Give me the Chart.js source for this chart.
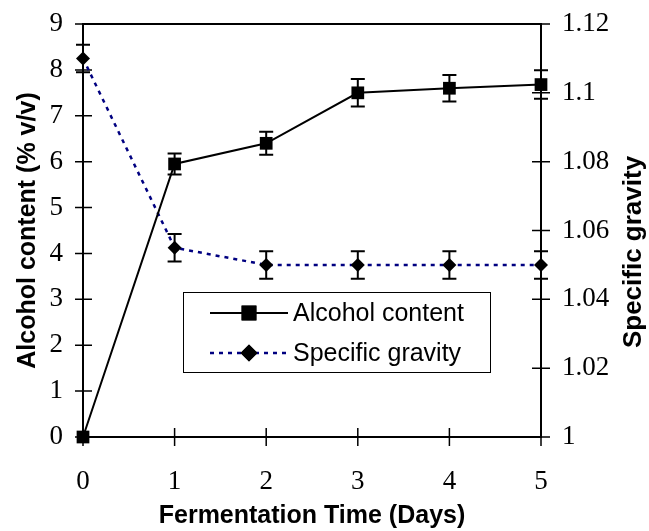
<!DOCTYPE html>
<html>
<head>
<meta charset="utf-8">
<script src="https://cdn.jsdelivr.net/npm/chart.js@4.4.1/dist/chart.umd.min.js"></script>
<style>
  body { margin: 0; background: #fff; }
  #wrap { width: 649px; height: 531px; }
</style>
</head>
<body>
<div id="wrap"><canvas id="chart"></canvas></div>
<script>
// fermentation data
const days = [0, 1, 2, 3, 4, 5]
const alcohol = [0, 5.95, 6.4, 7.5, 7.6, 7.68]
const alcoholErr = [0, 0.23, 0.25, 0.3, 0.29, 0.31]
const gravity = [1.11, 1.055, 1.05, 1.05, 1.05, 1.05]
const gravityErr = [0.004, 0.004, 0.004, 0.004, 0.004, 0.004]
const leftTicks = [0, 1, 2, 3, 4, 5, 6, 7, 8, 9]
const rightTicks = [1, 1.02, 1.04, 1.06, 1.08, 1.1, 1.12]
const rightTitle = 'Specific gravity'

const serif = "'Liberation Serif', 'Times New Roman', serif"
const sans = "'Liberation Sans', Arial, sans-serif"

function points(ys) {
  return days.map((d, i) => ({x: d, y: ys[i]}))
}

/* frame, crossing tick marks, error bars, legend and right title */
const decorPlugin = {
  id: 'decor',
  beforeDatasetsDraw(chart) {
    const ctx = chart.ctx
    const a = chart.chartArea
    const sx = chart.scales.x, sy = chart.scales.y, sy1 = chart.scales.y1
    ctx.save()
    ctx.strokeStyle = '#000'
    ctx.lineWidth = 2
    ctx.strokeRect(a.left, a.top, a.right - a.left, a.bottom - a.top)
    ctx.beginPath()
    leftTicks.forEach(v => {
      const y = sy.getPixelForValue(v)
      ctx.moveTo(a.left - 8, y); ctx.lineTo(a.left + 9, y)
    })
    rightTicks.forEach(v => {
      const y = sy1.getPixelForValue(v)
      ctx.moveTo(a.right - 9, y); ctx.lineTo(a.right + 9, y)
    })
    days.forEach(v => {
      const x = sx.getPixelForValue(v)
      ctx.moveTo(x, a.bottom - 9); ctx.lineTo(x, a.bottom + 9)
    })
    ctx.lineWidth = 1.5
    ctx.stroke()

    // error bars
    ctx.lineWidth = 2
    chart.data.datasets.forEach(ds => {
      const ys = chart.scales[ds.yAxisID]
      ds.data.forEach((p, i) => {
        const e = ds.errors[i]
        if (!e) return
        const x = sx.getPixelForValue(p.x)
        const y0 = ys.getPixelForValue(p.y - e)
        const y1 = ys.getPixelForValue(p.y + e)
        ctx.beginPath()
        ctx.moveTo(x, y0); ctx.lineTo(x, y1)
        ctx.moveTo(x - 7, y0); ctx.lineTo(x + 7, y0)
        ctx.moveTo(x - 7, y1); ctx.lineTo(x + 7, y1)
        ctx.stroke()
      })
    })
    ctx.restore()
  },
  afterDraw(chart) {
    const ctx = chart.ctx
    ctx.save()
    // right axis title, reading bottom to top
    ctx.translate(641, 252)
    ctx.rotate(-Math.PI / 2)
    ctx.fillStyle = '#000'
    ctx.font = 'bold 26px ' + sans
    ctx.textAlign = 'center'
    ctx.textBaseline = 'alphabetic'
    ctx.fillText(rightTitle, 0, 0)
    ctx.restore()

    // legend box
    ctx.save()
    ctx.fillStyle = '#fff'
    ctx.fillRect(183, 292, 307, 80)
    ctx.strokeStyle = '#000'
    ctx.lineWidth = 1
    ctx.strokeRect(183.5, 292.5, 307, 80)
    const rows = [313, 353]
    chart.data.datasets.forEach((ds, i) => {
      const y = rows[i]
      ctx.strokeStyle = ds.borderColor
      ctx.lineWidth = ds.borderWidth
      ctx.setLineDash(ds.borderDash || [])
      ctx.beginPath()
      ctx.moveTo(210, y); ctx.lineTo(288, y)
      ctx.stroke()
      ctx.setLineDash([])
      ctx.fillStyle = '#000'
      Chart.helpers.drawPoint(ctx, {pointStyle: ds.pointStyle, radius: ds.pointRadius + 1.5, borderWidth: 0}, 249, y)
      ctx.fill()
      ctx.font = '25px ' + sans
      ctx.textBaseline = 'middle'
      ctx.fillText(ds.label, 293, y + 1)
    })
    ctx.restore()
  }
}

const config = {
  type: 'line',
  data: {
    datasets: [{
      label: 'Alcohol content',
      data: points(alcohol),
      errors: alcoholErr,
      yAxisID: 'y',
      borderColor: '#000',
      borderWidth: 2,
      pointStyle: 'rect',
      pointRadius: 9,
      pointBackgroundColor: '#000',
      pointBorderWidth: 0,
      tension: 0,
      clip: false
    }, {
      label: 'Specific gravity',
      data: points(gravity),
      errors: gravityErr,
      yAxisID: 'y1',
      borderColor: '#000080',
      borderWidth: 2.5,
      borderDash: [4, 5],
      pointStyle: 'rectRot',
      pointRadius: 7,
      pointBackgroundColor: '#000',
      pointBorderWidth: 0,
      tension: 0,
      clip: false
    }]
  },
  options: {
    responsive: true,
    maintainAspectRatio: false,
    animation: false,
    layout: { padding: { top: 24, left: 0, right: 0, bottom: 0 } },
    plugins: { legend: { display: false }, tooltip: { enabled: false } },
    scales: {
      x: {
        type: 'linear', min: 0, max: 5,
        afterFit: s => { s.height = 94; s.paddingLeft = 0; s.paddingRight = 0 },
        grid: { display: false, drawTicks: false },
        border: { display: false },
        ticks: { stepSize: 1, padding: 29, color: '#000', font: { family: serif, size: 27 } },
        title: { display: true, text: 'Fermentation Time (Days)', color: '#000', padding: { top: 0, bottom: 0 },
          font: { family: sans, size: 25, weight: 'bold', lineHeight: 1.2 } }
      },
      y: {
        position: 'left', min: 0, max: 9,
        afterFit: s => { s.width = 83; s.paddingTop = 0; s.paddingBottom = 0 },
        grid: { display: false, drawTicks: false },
        border: { display: false },
        ticks: { stepSize: 1, padding: 20, color: '#000', font: { family: serif, size: 27 } },
        title: { display: true, text: 'Alcohol content (% v/v)', color: '#000', padding: { top: 13, bottom: 0 },
          font: { family: sans, size: 25, weight: 'bold', lineHeight: 1.2 } }
      },
      y1: {
        position: 'right', min: 1, max: 1.12,
        afterFit: s => { s.width = 108; s.paddingTop = 0; s.paddingBottom = 0 },
        grid: { display: false, drawTicks: false },
        border: { display: false },
        ticks: { stepSize: 0.02, padding: 21, color: '#000', font: { family: serif, size: 27 },
          callback: v => String(Math.round(v * 100) / 100) },
        title: { display: false }
      }
    }
  },
  plugins: [decorPlugin]
}

document.addEventListener('DOMContentLoaded', function() {
  const chart = new Chart(document.getElementById('chart'), config)
  window.chart = chart
})
</script>
</body>
</html>
